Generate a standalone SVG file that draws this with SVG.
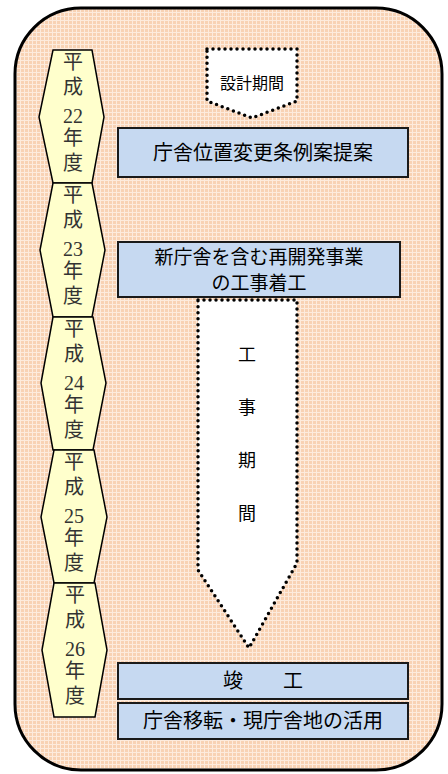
<svg xmlns="http://www.w3.org/2000/svg" width="448" height="774" viewBox="0 0 448 774">
<defs>
<pattern id="grid" width="4" height="4" patternUnits="userSpaceOnUse">
<rect width="4" height="4" fill="#F8D2B4"/>
<path d="M0 0.5H4M0.5 0V4" stroke="#FDEBDD" stroke-width="1"/>
</pattern>
</defs>
<style>
.hex{fill:#FFFFCC;stroke:#000;stroke-width:1.5}
.yr{font-family:"Liberation Serif","Noto Sans CJK JP",serif;font-size:20px;fill:#333;text-anchor:middle}
.box{fill:#C6D9F1;stroke:#1a1a1a;stroke-width:2}
.bt{font-family:"Noto Sans CJK JP",sans-serif;font-size:20px;fill:#000;text-anchor:middle}
.dot{fill:#fff;stroke:#000;stroke-width:3.5;stroke-dasharray:0 6;stroke-linecap:round;stroke-linejoin:round}
.at{font-family:"Noto Sans CJK JP",sans-serif;font-size:18px;fill:#000;text-anchor:middle}
</style>
<rect id="frame" x="15" y="8" width="427" height="762" rx="66" ry="66" fill="url(#grid)" stroke="#000" stroke-width="3"/>
<g id="years">
<g id="h22"><polygon class="hex" points="53,50 92,50 104,117 92,183 53,183 39,117"/>
<text class="yr" x="73" y="69">平</text><text class="yr" x="73" y="94">成</text><text class="yr" x="73" y="123">22</text><text class="yr" x="73" y="145">年</text><text class="yr" x="73" y="170">度</text></g>
<g id="h23"><polygon class="hex" points="53,183 92,183 105,250 92,317 53,317 40,250"/>
<text class="yr" x="73" y="202">平</text><text class="yr" x="73" y="227">成</text><text class="yr" x="73" y="256">23</text><text class="yr" x="73" y="278">年</text><text class="yr" x="73" y="303">度</text></g>
<g id="h24"><polygon class="hex" points="53,317 93,317 106,383 93,450 53,450 41,383"/>
<text class="yr" x="74" y="336">平</text><text class="yr" x="74" y="361">成</text><text class="yr" x="74" y="390">24</text><text class="yr" x="74" y="412">年</text><text class="yr" x="74" y="437">度</text></g>
<g id="h25"><polygon class="hex" points="54,450 94,450 107,517 94,583 54,583 41,517"/>
<text class="yr" x="74" y="469">平</text><text class="yr" x="74" y="494">成</text><text class="yr" x="74" y="523">25</text><text class="yr" x="74" y="545">年</text><text class="yr" x="74" y="570">度</text></g>
<g id="h26"><polygon class="hex" points="54,583 95,583 107,650 95,717 54,717 42,650"/>
<text class="yr" x="75" y="602">平</text><text class="yr" x="75" y="627">成</text><text class="yr" x="75" y="656">26</text><text class="yr" x="75" y="678">年</text><text class="yr" x="75" y="703">度</text></g>
</g>
<g id="connectors">
<g id="design"><polygon class="dot" points="207,49 297,49 297,101 252,118 207,101"/>
<text class="bt" x="252" y="89" style="font-size:16px">設計期間</text></g>
<g id="construction"><polygon class="dot" points="198,300 297,300 297,563 249,648 198,570"/>
<text class="at" x="247" y="361">工</text><text class="at" x="247" y="414">事</text><text class="at" x="247" y="467">期</text><text class="at" x="247" y="520">間</text></g>
</g>
<g id="b1"><rect class="box" x="118" y="128" width="290" height="49"/><text class="bt" x="263" y="160">庁舎位置変更条例案提案</text></g>
<g id="b2"><rect class="box" x="118" y="242" width="282" height="55"/><text class="bt" style="font-size:19px" x="259" y="264">新庁舎を含む再開発事業</text><text class="bt" style="font-size:19px" x="259" y="290">の工事着工</text></g>
<g id="b3"><rect class="box" x="118" y="663" width="290" height="36"/><text class="bt" x="263" y="688" xml:space="preserve">竣　　工</text></g>
<g id="b4"><rect class="box" x="118" y="703" width="290" height="36"/><text class="bt" x="263" y="728">庁舎移転・現庁舎地の活用</text></g>
</svg>
